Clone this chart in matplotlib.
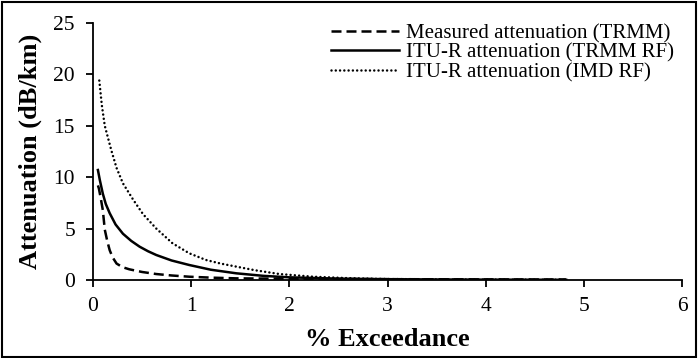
import matplotlib.pyplot as plt
from matplotlib.patches import Rectangle

plt.rcParams["font.family"] = ["Liberation Serif", "DejaVu Serif"]

# % exceedance vs specific attenuation
x_meas = [0.05, 0.06, 0.08, 0.10, 0.12, 0.145, 0.17, 0.20, 0.24, 0.30, 0.37, 0.50,
          0.645, 0.80, 0.98, 1.2, 1.46, 2.0, 2.5, 3.0, 3.5, 4.0, 4.5, 4.82]
y_meas = [9.2, 8.9, 7.9, 6.8, 4.9, 3.8, 2.9, 2.2, 1.6, 1.25, 1.04, 0.78,
          0.58, 0.44, 0.32, 0.23, 0.16, 0.12, 0.1, 0.08, 0.07, 0.06, 0.05, 0.05]

x_trmm = [0.05, 0.07, 0.10, 0.13, 0.17, 0.23, 0.305, 0.39, 0.475, 0.56, 0.645, 0.80,
          0.98, 1.2, 1.46, 1.74, 2.0, 2.5, 3.0, 3.5, 4.0, 4.5, 4.82]
y_trmm = [10.7, 9.7, 8.4, 7.4, 6.5, 5.4, 4.5, 3.8, 3.24, 2.8, 2.43, 1.9,
          1.46, 1.0, 0.65, 0.4, 0.26, 0.13, 0.08, 0.05, 0.035, 0.025, 0.02]

x_imd = [0.064, 0.09, 0.12, 0.187, 0.24, 0.305, 0.41, 0.51, 0.645, 0.81, 0.98, 1.15,
         1.3, 1.46, 1.65, 1.9, 2.24, 2.6, 2.95, 3.5, 4.0, 4.5, 4.82]
y_imd = [19.4, 17.0, 15.0, 12.6, 10.9, 9.4, 7.8, 6.4, 5.0, 3.57, 2.6, 1.95,
         1.6, 1.3, 0.95, 0.58, 0.32, 0.18, 0.1, 0.06, 0.04, 0.03, 0.02]

fig = plt.figure(figsize=(6.98, 3.58), dpi=100)
ax = fig.add_axes([93 / 698, 1 - 280 / 358, 589 / 698, 257 / 358])

ax.plot(x_meas, y_meas, color="black", lw=1.8, ls=(0, (4, 2)), label="Measured attenuation (TRMM)")
ax.plot(x_trmm, y_trmm, color="black", lw=1.8, ls="-", label="ITU-R attenuation (TRMM RF)")
ax.plot(x_imd, y_imd, color="black", lw=1.8, ls=(0, (0.01, 1.7)), dash_capstyle="round",
        label="ITU-R attenuation (IMD RF)")

ax.set_xlim(0, 6)
ax.set_ylim(0, 25)
ax.set_xticks(range(0, 7))
ax.set_yticks(range(0, 26, 5))
ax.spines["top"].set_visible(False)
ax.spines["right"].set_visible(False)
for s in ("left", "bottom"):
    ax.spines[s].set_linewidth(1.3)
ax.tick_params(direction="out", length=5, width=1.3, labelsize=15.5)
ax.tick_params(axis="x", pad=7)
ax.tick_params(axis="y", pad=8)

ax.set_xlabel("% Exceedance", fontsize=19, fontweight="bold", labelpad=9)
ax.set_ylabel("Attenuation (dB/km)", fontsize=19, fontweight="bold", labelpad=8)

ax.legend(loc="upper right", bbox_to_anchor=(1.0, 1.03), frameon=False, fontsize=15,
          handlelength=3.3, handletextpad=0.3, labelspacing=0.0, borderaxespad=0)

# outer frame around the whole figure
fig.patches.append(Rectangle((0.003, 0.004), 0.994, 0.99, transform=fig.transFigure,
                             fill=False, edgecolor="black", lw=1.5))

fig.savefig("out.png", dpi=100)
